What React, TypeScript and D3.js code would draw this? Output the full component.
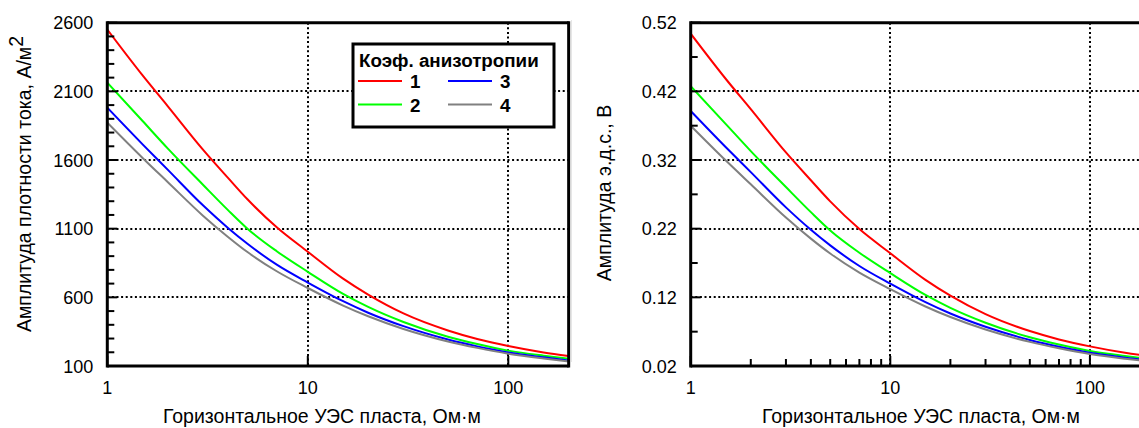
import React from 'react';
import * as d3 from 'd3';

const xValues = [1, 1.5, 2, 3, 4, 5, 7, 10, 15, 20, 30, 50, 70, 100, 150, 200];
const seriesNames = ['1', '2', '3', '4'];
const seriesColors = ['#ff0000', '#00ff00', '#0000ff', '#808080'];

// Left panel: current density amplitude, A/m^2
const densityK1 = [2550, 2216, 1993, 1676, 1470, 1314, 1110, 932, 736, 620, 483, 359, 297, 246, 199, 173];
const densityK2 = [2163, 1884, 1685, 1420, 1235, 1100, 936, 786, 625, 530, 420, 313, 260, 212, 175, 153];
const densityK3 = [1981, 1714, 1530, 1270, 1105, 990, 838, 708, 572, 488, 390, 293, 243, 199, 163, 140];
const densityK4 = [1872, 1615, 1440, 1195, 1040, 930, 790, 668, 540, 462, 370, 279, 232, 190, 155, 134];

// Right panel: EMF amplitude, V
const emfK1 = [0.504, 0.438, 0.394, 0.331, 0.2905, 0.2597, 0.2194, 0.1842, 0.1455, 0.1225, 0.0955, 0.0709, 0.0587, 0.0486, 0.0393, 0.0342];
const emfK2 = [0.4275, 0.3723, 0.333, 0.2806, 0.2441, 0.2174, 0.185, 0.1553, 0.1235, 0.1047, 0.083, 0.0619, 0.0514, 0.0419, 0.0346, 0.0302];
const emfK3 = [0.3915, 0.3387, 0.3024, 0.251, 0.2184, 0.1957, 0.1656, 0.1399, 0.113, 0.0964, 0.0771, 0.0579, 0.048, 0.0393, 0.0322, 0.0277];
const emfK4 = [0.37, 0.3192, 0.2846, 0.2362, 0.2055, 0.1838, 0.1561, 0.132, 0.1067, 0.0913, 0.0731, 0.0551, 0.0458, 0.0375, 0.0306, 0.0265];

const xTicks = [1, 10, 100];
const xMinorTicks = [2, 3, 4, 5, 6, 7, 8, 9, 20, 30, 40, 50, 60, 70, 80, 90, 200];
const densityTicks = [100, 600, 1100, 1600, 2100, 2600];
const densityMinor = [200, 300, 400, 500, 700, 800, 900, 1000, 1200, 1300, 1400, 1500, 1700, 1800, 1900, 2000, 2200, 2300, 2400, 2500];
const emfTicks = [0.02, 0.12, 0.22, 0.32, 0.42, 0.52];
const emfMinor = [0.07, 0.17, 0.27, 0.37, 0.47];

const xTitle = 'Горизонтальное УЭС пласта, Ом·м';
const densityTitle = 'Амплитуда плотности тока, А/м';
const emfTitle = 'Амплитуда э.д.с., В';
const legendTitle = 'Коэф. анизотропии';

const FONT = 'Liberation Sans, Arial, sans-serif';
const TICK_FS = 18;
const TITLE_FS = 19.5;

type PanelProps = {
  id: string;
  left: number;
  right: number;
  top: number;
  bottom: number;
  yDomain: [number, number];
  yTicks: number[];
  yMinor: number[];
  yFormat: (v: number) => string;
  showXMinor: boolean;
  series: number[][];
  yTitle: React.ReactNode;
  yTitleX: number;
  yTitleY: number;
  xTitleX: number;
  drawRight: boolean;
};

function Panel(p: PanelProps) {
  const x = d3.scaleLog().domain([1, 200]).range([p.left, p.right]);
  const y = d3.scaleLinear().domain(p.yDomain).range([p.bottom, p.top]);
  const line = d3
    .line<[number, number]>()
    .x((d) => x(d[0]))
    .y((d) => y(d[1]))
    .curve(d3.curveMonotoneX);
  const majorLen = 10;
  const minorLen = 7;
  const gridStyle = { stroke: '#000', strokeWidth: 2, strokeDasharray: '2 2.6' };
  return (
    <g>
      <defs>
        <clipPath id={p.id}>
          <rect x={p.left} y={p.top} width={p.right - p.left} height={p.bottom - p.top} />
        </clipPath>
      </defs>
      {/* grid */}
      {xTicks.slice(1).map((t) => (
        <line key={'gx' + t} x1={Math.round(x(t))} x2={Math.round(x(t))} y1={p.top} y2={p.bottom} {...gridStyle} />
      ))}
      {p.yTicks.slice(1, -1).map((t) => (
        <line key={'gy' + t} x1={p.left} x2={p.right} y1={Math.round(y(t))} y2={Math.round(y(t))} {...gridStyle} />
      ))}
      {/* curves */}
      <g clipPath={`url(#${p.id})`}>
        {p.series.map((vals, i) => (
          <path
            key={i}
            d={line(xValues.map((xv, j) => [xv, vals[j]] as [number, number])) || ''}
            fill="none"
            stroke={seriesColors[i]}
            strokeWidth={2}
          />
        ))}
      </g>
      {/* ticks */}
      {xTicks.map((t) => (
        <line key={'tx' + t} x1={x(t)} x2={x(t)} y1={p.bottom} y2={p.bottom - majorLen} stroke="#000" strokeWidth={2} />
      ))}
      {p.showXMinor &&
        xMinorTicks.map((t) => (
          <line key={'mx' + t} x1={x(t)} x2={x(t)} y1={p.bottom} y2={p.bottom - minorLen} stroke="#000" strokeWidth={2} />
        ))}
      {p.yTicks.map((t) => (
        <line key={'ty' + t} x1={p.left} x2={p.left + majorLen} y1={y(t)} y2={y(t)} stroke="#000" strokeWidth={2} />
      ))}
      {p.yMinor.map((t) => (
        <line key={'my' + t} x1={p.left} x2={p.left + minorLen} y1={y(t)} y2={y(t)} stroke="#000" strokeWidth={2} />
      ))}
      {/* frame */}
      <line x1={p.left} x2={p.right} y1={p.top} y2={p.top} stroke="#000" strokeWidth={3} />
      <line x1={p.left} x2={p.right} y1={p.bottom} y2={p.bottom} stroke="#000" strokeWidth={3} />
      <line x1={p.left} x2={p.left} y1={p.top - 1.5} y2={p.bottom + 1.5} stroke="#000" strokeWidth={3} />
      {p.drawRight && (
        <line x1={p.right} x2={p.right} y1={p.top - 1.5} y2={p.bottom + 1.5} stroke="#000" strokeWidth={3} />
      )}
      {/* tick labels */}
      {xTicks.map((t) => (
        <text key={'lx' + t} x={x(t)} y={p.bottom + 28} textAnchor="middle" fontSize={TICK_FS} fontFamily={FONT}>
          {String(t)}
        </text>
      ))}
      {p.yTicks.map((t) => (
        <text key={'ly' + t} x={p.left - 14} y={y(t) + 6.5} textAnchor="end" fontSize={TICK_FS} fontFamily={FONT}>
          {p.yFormat(t)}
        </text>
      ))}
      {/* titles */}
      <text x={p.xTitleX} y={p.bottom + 57} textAnchor="middle" fontSize={TITLE_FS} fontFamily={FONT}>
        {xTitle}
      </text>
      <text
        transform={`translate(${p.yTitleX},${p.yTitleY}) rotate(-90)`}
        textAnchor="middle"
        fontSize={TITLE_FS}
        fontFamily={FONT}
      >
        {p.yTitle}
      </text>
    </g>
  );
}

function Legend() {
  const x0 = 353;
  const y0 = 44;
  const w = 201;
  const h = 83;
  const rows = [
    { name: seriesNames[0], color: seriesColors[0], col: 0, row: 0 },
    { name: seriesNames[1], color: seriesColors[1], col: 0, row: 1 },
    { name: seriesNames[2], color: seriesColors[2], col: 1, row: 0 },
    { name: seriesNames[3], color: seriesColors[3], col: 1, row: 1 },
  ];
  return (
    <g>
      <rect x={x0} y={y0} width={w} height={h} fill="#fff" stroke="#000" strokeWidth={3} />
      <text x={x0 + 6} y={y0 + 22.5} fontSize={18.8} fontWeight="bold" fontFamily={FONT}>
        {legendTitle}
      </text>
      {rows.map((r) => {
        const lx = x0 + 5 + r.col * 90;
        const ly = y0 + 37 + r.row * 23.5;
        return (
          <g key={r.name}>
            <line x1={lx} x2={lx + 44} y1={ly} y2={ly} stroke={r.color} strokeWidth={2} />
            <text x={lx + 52} y={ly + 7} fontSize={18.8} fontWeight="bold" fontFamily={FONT}>
              {r.name}
            </text>
          </g>
        );
      })}
    </g>
  );
}

export default function App() {
  const top = 22.7;
  const bottom = 366;
  const leftL = 107.3;
  const leftR = leftL + 200.5 * Math.log10(200);
  const rightL = 690.7;
  const rightR = rightL + 199.6 * Math.log10(200);
  return (
    <div style={{ position: 'absolute', left: 0, top: 0, width: 1139, height: 428, overflow: 'hidden', background: '#fff' }}>
      <svg width={1139} height={428} style={{ display: 'block' }}>
        <rect x={0} y={0} width={1139} height={428} fill="#fff" />
        <line x1={571.5} x2={571.5} y1={20} y2={362} stroke="#e6e6e6" strokeWidth={1} />
        <Panel
          id="clipL"
          left={leftL}
          right={leftR}
          top={top}
          bottom={bottom}
          yDomain={[100, 2600]}
          yTicks={densityTicks}
          yMinor={densityMinor}
          yFormat={(v) => String(v)}
          showXMinor={false}
          series={[densityK1, densityK2, densityK3, densityK4]}
          yTitle={
            <>
              {densityTitle}
              <tspan dy={-8}>2</tspan>
            </>
          }
          yTitleX={31}
          yTitleY={184}
          xTitleX={322}
          drawRight={true}
        />
        <Legend />
        <Panel
          id="clipR"
          left={rightL}
          right={rightR}
          top={top}
          bottom={bottom}
          yDomain={[0.02, 0.52]}
          yTicks={emfTicks}
          yMinor={emfMinor}
          yFormat={(v) => v.toFixed(2)}
          showXMinor={true}
          series={[emfK1, emfK2, emfK3, emfK4]}
          yTitle={emfTitle}
          yTitleX={611}
          yTitleY={193}
          xTitleX={921}
          drawRight={false}
        />
      </svg>
    </div>
  );
}
